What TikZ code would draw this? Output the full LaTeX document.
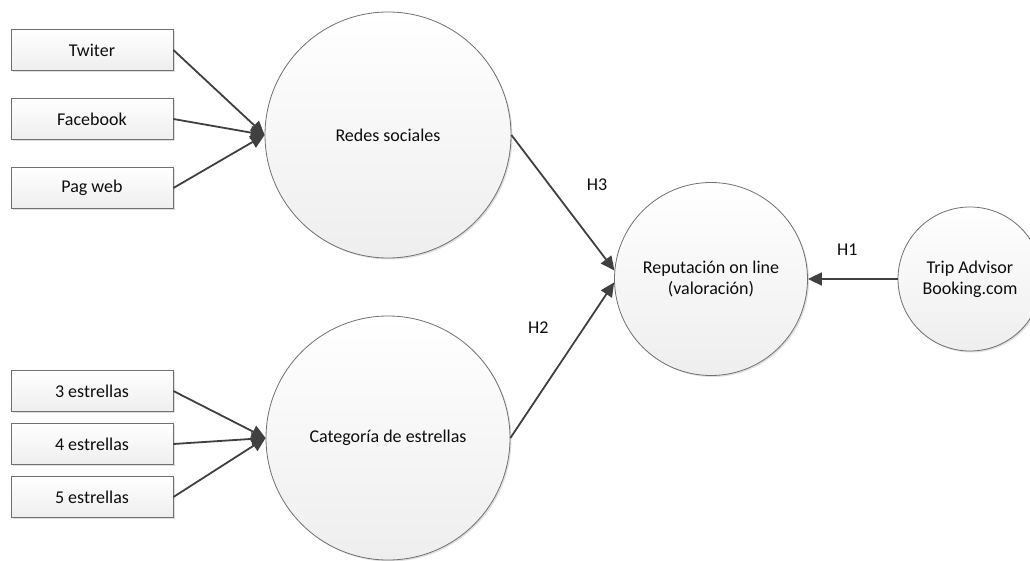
\documentclass[tikz,border=0pt]{standalone}
\usepackage{fontspec}
\setmainfont{Carlito}
\usetikzlibrary{arrows.meta,shadows}
\definecolor{linea}{HTML}{404040}
\definecolor{borde}{HTML}{707070}
\definecolor{relleno}{HTML}{EEEEEE}
\definecolor{texto}{HTML}{0D0D0D}

\begin{document}
\begin{tikzpicture}[auto, x=1pt, y=-1pt,
	font=\fontsize{18}{21}\selectfont, text=texto,
	>={Triangle[length=14pt,width=13pt]},
	caja/.style={draw=borde, line width=0.8pt, top color=white, bottom color=relleno,
		minimum width=162pt, minimum height=41pt, inner sep=0pt,
		drop shadow={shadow xshift=1.5pt, shadow yshift=-1.5pt, opacity=0.25}},
	circulo/.style={circle, draw=borde, line width=0.8pt, top color=white, bottom color=relleno,
		inner sep=0pt, align=center,
		drop shadow={shadow xshift=1.5pt, shadow yshift=-1.5pt, opacity=0.25}},
	flecha/.style={->, draw=linea, line width=1.8pt}]
	\useasboundingbox (0,0) rectangle (1030,561);
					\node[caja] (twiter) at (92, 50) {Twiter};
					\node[caja] (facebook) at (92, 119) {Facebook};
					\node[caja] (pagweb) at (92, 188) {Pag web};
					\node[caja] (e3) at (92, 391) {3 estrellas};
					\node[caja] (e4) at (92, 444) {4 estrellas};
					\node[caja] (e5) at (92, 497) {5 estrellas};
					\node[circulo, minimum size=246pt] (redes) at (388, 135) {Redes sociales};
					\node[circulo, minimum size=244pt] (categoria) at (388, 438) {Categoría de estrellas};
					\node[circulo, minimum size=193pt] (reputacion) at (711, 279) {Reputación on line\\(valoración)};
					\node[circulo, minimum size=144pt] (trip) at (970, 279) {Trip Advisor\\Booking.com};
					\draw[flecha] (twiter.east) to (redes.west);
					\draw[flecha] (facebook.east) to (redes.west);
					\draw[flecha] (pagweb.east) to (redes.west);
					\draw[flecha] (e3.east) to (categoria.west);
					\draw[flecha] (e4.east) to (categoria.west);
					\draw[flecha] (e5.east) to (categoria.west);
					\draw[flecha] (redes.east) to node[pos=0.55, inner sep=18pt]{H3}(reputacion.175);
					\draw[flecha] (categoria.east) to node[pos=0.55, inner sep=18pt]{H2}(reputacion.182);
					\draw[flecha] (trip.west) to node[pos=0.56, inner sep=23pt, swap]{H1}(reputacion.east);
				\end{tikzpicture}
\end{document}
